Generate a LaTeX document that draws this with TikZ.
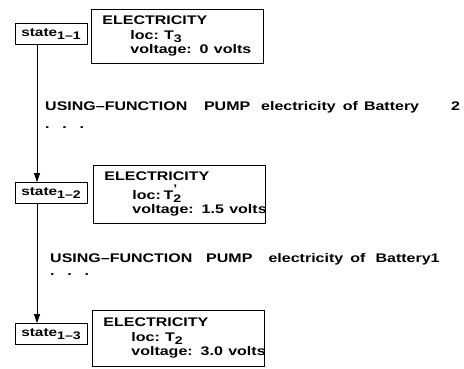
\documentclass[tikz,border=0pt]{standalone}
\usepackage{graphicx}
\usepackage{fontspec}
\setmainfont{Liberation Sans}
\usetikzlibrary{arrows.meta}

\newcommand{\wide}[1]{\scalebox{1.28}[1]{#1}}
\newcommand{\lowtxt}[1]{\raisebox{-0.45ex}{\fontsize{11}{11}\selectfont #1}}

\tikzset{
  statebox/.style={draw, line width=0.8pt, minimum width=72pt, minimum height=21pt, inner sep=1pt, font=\fontsize{12}{14}\selectfont\bfseries},
  infobox/.style={draw, line width=0.8pt, anchor=north west, align=left, text width=162pt, inner xsep=5pt, inner ysep=6pt, font=\fontsize{12.5}{14.5}\selectfont\bfseries},
  fnline/.style={anchor=base west, inner sep=0pt, font=\fontsize{12.5}{15}\selectfont\bfseries}
}
\tikzset{flow/.style={-{Triangle[length=9pt,width=6pt]}, line width=0.7pt}}

\begin{document}
\begin{tikzpicture}[x=1pt,y=-1pt]
\useasboundingbox (0,0) rectangle (464,368);

\node[statebox] (s11) at (51,34) {\wide{state\lowtxt{1--1}}};
\node[statebox] (s12) at (51,193) {\wide{state\lowtxt{1--2}}};
\node[statebox] (s13) at (51,334) {\wide{state\lowtxt{1--3}}};

\node[infobox, minimum height=54pt] (e11) at (91,9) {\hspace*{6pt}\wide{ELECTRICITY}\\\hspace*{34pt}\wide{loc:~T\lowtxt{3}}\\\hspace*{34pt}\wide{voltage: 0 volts}};
\node[infobox, minimum height=58pt] (e12) at (93,165) {\hspace*{6pt}\wide{ELECTRICITY}\\[3pt]\hspace*{34pt}\wide{loc:\,T\lowtxt{\makebox[0pt][l]{\raisebox{1.7ex}{'}}2}}\\\hspace*{34pt}\wide{voltage: 1.5 volts}};
\node[infobox, minimum height=56pt] (e13) at (92,310) {\hspace*{6pt}\wide{ELECTRICITY}\\\hspace*{34pt}\wide{loc:~T\lowtxt{2}}\\\hspace*{34pt}\wide{voltage: 3.0 volts}};

\node[fnline] (u1) at (45,110) {\wide{USING--FUNCTION\hspace{13pt}PUMP\hspace{8.5pt}electricity\hspace{5.5pt}of\hspace{4.7pt}Battery\hspace{25pt}2}};
\node[fnline] (d1) at (45,128) {\wide{.\hspace{10pt}.\hspace{10pt}.}};

\node[fnline] (u2) at (50,262) {\wide{USING--FUNCTION\hspace{10.8pt}PUMP\hspace{12.6pt}electricity\hspace{5.6pt}of\hspace{7.8pt}Battery1}};
\node[fnline] (d2) at (50,275) {\wide{.\hspace{10pt}.\hspace{10pt}.}};

\draw[flow] ([xshift=-14pt]s11.south) -- ([xshift=-14pt]s12.north);
\draw[flow] ([xshift=-14pt]s12.south) -- ([xshift=-14pt]s13.north);

\end{tikzpicture}
\end{document}
